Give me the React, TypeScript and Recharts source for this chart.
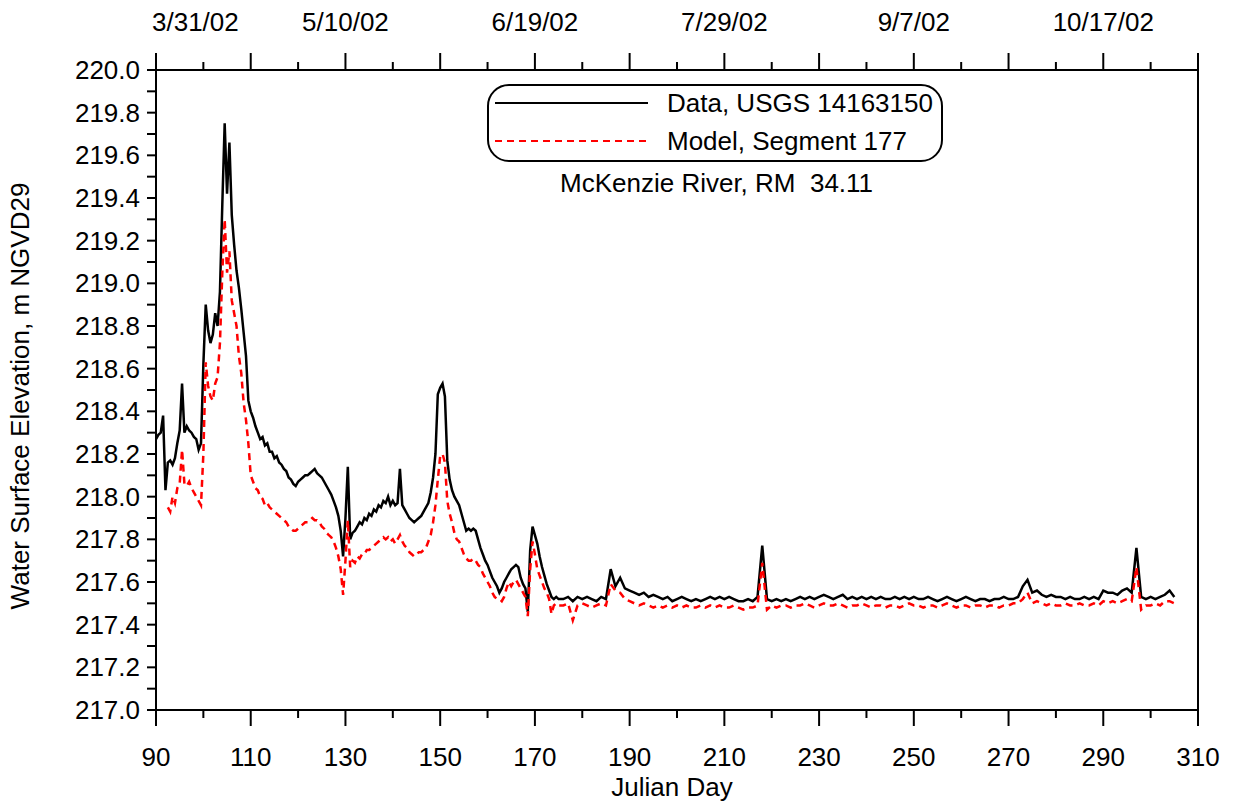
import { LineChart, Line, XAxis, YAxis, ReferenceLine } from 'recharts';

// Julian day sampling (half-day through the active period, daily afterwards)
const dayEarly = [
  90, 90.5, 91, 91.5, 92, 92.5, 93, 93.5, 94, 94.5,
  95, 95.5, 96, 96.5, 97, 97.5, 98, 98.5, 99, 99.5,
  100, 100.5, 101, 101.5, 102, 102.5, 103, 103.5, 104, 104.5,
  105, 105.5, 106, 106.5, 107, 107.5, 108, 108.5, 109, 109.5,
  110, 110.5, 111, 111.5, 112, 112.5, 113, 113.5, 114, 114.5,
  115, 115.5, 116, 116.5, 117, 117.5, 118, 118.5, 119, 119.5,
  120, 120.5, 121, 121.5, 122, 122.5, 123, 123.5, 124, 124.5,
  125, 125.5, 126, 126.5, 127, 127.5, 128, 128.5, 129, 129.5,
  130, 130.5, 131, 131.5, 132, 132.5, 133, 133.5, 134, 134.5,
  135, 135.5, 136, 136.5, 137, 137.5, 138, 138.5, 139, 139.5,
  140, 140.5, 141, 141.5, 142, 142.5, 143, 143.5, 144, 144.5,
  145, 145.5, 146, 146.5, 147, 147.5, 148, 148.5, 149, 149.5,
  150, 150.5, 151, 151.5, 152, 152.5, 153, 153.5, 154, 154.5,
  155, 155.5, 156, 156.5, 157, 157.5, 158, 158.5, 159, 159.5,
  160, 160.5, 161, 161.5, 162, 162.5, 163, 163.5, 164, 164.5,
  165, 165.5, 166, 166.5, 167, 167.5, 168, 168.5, 169, 169.5,
  170, 170.5, 171, 171.5, 172, 172.5, 173, 173.5, 174, 174.5,
  175,
];

// USGS 14163150 observed elevation, m
const dataEarly = [
  218.27, 218.29, 218.30, 218.38, 218.03, 218.16, 218.17, 218.15, 218.18, 218.25,
  218.31, 218.53, 218.30, 218.33, 218.31, 218.30, 218.28, 218.27, 218.22, 218.25,
  218.62, 218.90, 218.78, 218.72, 218.76, 218.86, 218.80, 218.96, 219.37, 219.75,
  219.42, 219.66, 219.32, 219.18, 219.06, 218.98, 218.88, 218.77, 218.66, 218.45,
  218.40, 218.37, 218.33, 218.30, 218.27, 218.28, 218.24, 218.25, 218.21, 218.21,
  218.18, 218.19, 218.16, 218.15, 218.13, 218.12, 218.09, 218.08, 218.06, 218.05,
  218.07, 218.08, 218.09, 218.10, 218.10, 218.11, 218.12, 218.13, 218.11, 218.10,
  218.09, 218.07, 218.05, 218.03, 218.01, 217.98, 217.95, 217.91, 217.84, 217.72,
  217.90, 218.14, 217.80, 217.83, 217.84, 217.86, 217.88, 217.87, 217.90, 217.89,
  217.92, 217.91, 217.94, 217.93, 217.96, 217.95, 217.98, 217.97, 218.00, 217.96,
  217.98, 217.96, 217.97, 218.13, 217.96, 217.94, 217.92, 217.90, 217.89, 217.88,
  217.89, 217.90, 217.91, 217.93, 217.95, 217.97, 218.02, 218.09, 218.20, 218.48,
  218.51, 218.53, 218.47, 218.17, 218.08, 218.03, 218.00, 217.98, 217.96, 217.92,
  217.88, 217.84, 217.85, 217.84, 217.85, 217.84, 217.80, 217.76, 217.73, 217.70,
  217.68, 217.65, 217.62, 217.60, 217.58, 217.55, 217.57, 217.60, 217.62, 217.64,
  217.66, 217.67, 217.68, 217.67, 217.62, 217.59, 217.57, 217.46, 217.75, 217.86,
  217.82, 217.78, 217.72, 217.67, 217.63, 217.59, 217.56, 217.53, 217.52, 217.53,
  217.52,
];

// Model, segment 177
const modelEarly = [
  null, null, null, null, null, 217.95, 217.93, 218.00, 217.97, 218.04,
  218.06, 218.22, 218.06, 218.05, 218.07, 218.04, 218.02, 218.00, 217.98, 217.96,
  218.20, 218.63, 218.52, 218.47, 218.45, 218.53, 218.56, 218.72, 219.05, 219.30,
  219.05, 219.15, 218.92, 218.86, 218.80, 218.66, 218.58, 218.44, 218.36, 218.25,
  218.10, 218.07, 218.04, 218.03, 218.00, 217.99, 217.96, 217.97, 217.95, 217.94,
  217.93, 217.92, 217.91, 217.90, 217.89, 217.88, 217.86, 217.85, 217.84, 217.84,
  217.85, 217.86, 217.87, 217.88, 217.88, 217.89, 217.90, 217.89, 217.89, 217.88,
  217.86, 217.85, 217.83, 217.82, 217.81, 217.79, 217.76, 217.72, 217.66, 217.54,
  217.70, 217.89, 217.67, 217.70, 217.69, 217.72, 217.71, 217.73, 217.73, 217.75,
  217.75, 217.76, 217.77, 217.78, 217.79, 217.80, 217.81, 217.80, 217.81, 217.79,
  217.80, 217.78, 217.80, 217.82, 217.79, 217.77, 217.76, 217.74, 217.73, 217.72,
  217.73, 217.74, 217.74, 217.75, 217.76, 217.79, 217.82, 217.88, 217.96, 218.08,
  218.19, 218.20, 218.16, 217.98, 217.92, 217.88, 217.83, 217.80, 217.79, 217.76,
  217.73, 217.71, 217.70, 217.70, 217.71, 217.70, 217.68, 217.67, 217.64, 217.62,
  217.60, 217.58, 217.55, 217.53, 217.52, 217.52, 217.51, 217.53, 217.57, 217.60,
  217.58, 217.60, 217.61, 217.59, 217.57, 217.55, 217.53, 217.44, 217.66, 217.79,
  217.73, 217.66, 217.63, 217.60, 217.57, 217.55, 217.52, 217.45, 217.49, 217.50,
  217.49,
];

const dayLate = [
  176, 177, 178, 179, 180, 181, 182, 183, 184, 185,
  186, 187, 188, 189, 190, 191, 192, 193, 194, 195,
  196, 197, 198, 199, 200, 201, 202, 203, 204, 205,
  206, 207, 208, 209, 210, 211, 212, 213, 214, 215,
  216, 217, 218, 219, 220, 221, 222, 223, 224, 225,
  226, 227, 228, 229, 230, 231, 232, 233, 234, 235,
  236, 237, 238, 239, 240, 241, 242, 243, 244, 245,
  246, 247, 248, 249, 250, 251, 252, 253, 254, 255,
  256, 257, 258, 259, 260, 261, 262, 263, 264, 265,
  266, 267, 268, 269, 270, 271, 272, 273, 274, 275,
  276, 277, 278, 279, 280, 281, 282, 283, 284, 285,
  286, 287, 288, 289, 290, 291, 292, 293, 294, 295,
  296, 297, 298, 299, 300, 301, 302, 303, 304, 305,
];

const dataLate = [
  217.52, 217.53, 217.51, 217.53, 217.52, 217.53, 217.52, 217.51, 217.53, 217.52,
  217.66, 217.58, 217.62, 217.57, 217.56, 217.55, 217.54, 217.55, 217.53, 217.54,
  217.53, 217.52, 217.53, 217.51, 217.52, 217.53, 217.52, 217.51, 217.52, 217.51,
  217.52, 217.53, 217.52, 217.53, 217.52, 217.53, 217.52, 217.51, 217.51, 217.52,
  217.51, 217.53, 217.77, 217.52, 217.51, 217.52, 217.51, 217.52, 217.51, 217.52,
  217.53, 217.52, 217.53, 217.52, 217.53, 217.54, 217.53, 217.52, 217.53, 217.54,
  217.52, 217.53, 217.52, 217.53, 217.52, 217.53, 217.52, 217.53, 217.52, 217.52,
  217.53, 217.52, 217.53, 217.52, 217.53, 217.52, 217.52, 217.53, 217.52, 217.51,
  217.52, 217.53, 217.52, 217.51, 217.52, 217.53, 217.52, 217.51, 217.52, 217.52,
  217.51, 217.52, 217.52, 217.53, 217.52, 217.52, 217.53, 217.58, 217.61, 217.55,
  217.56, 217.54, 217.53, 217.54, 217.53, 217.53, 217.52, 217.53, 217.52, 217.52,
  217.53, 217.52, 217.53, 217.52, 217.56, 217.55, 217.55, 217.54, 217.56, 217.57,
  217.55, 217.76, 217.53, 217.52, 217.53, 217.52, 217.53, 217.54, 217.56, 217.53,
];

const modelLate = [
  217.49, 217.50, 217.42, 217.49, 217.50, 217.49, 217.48, 217.49, 217.50, 217.49,
  217.59, 217.56, 217.55, 217.52, 217.51, 217.50, 217.49, 217.50, 217.49, 217.48,
  217.49, 217.48, 217.49, 217.48, 217.49, 217.48, 217.49, 217.48, 217.48, 217.49,
  217.48, 217.49, 217.48, 217.49, 217.48, 217.48, 217.49, 217.48, 217.47, 217.48,
  217.48, 217.49, 217.69, 217.47, 217.49, 217.48, 217.49, 217.49, 217.48, 217.49,
  217.49, 217.50, 217.49, 217.48, 217.49, 217.50, 217.49, 217.49, 217.50, 217.49,
  217.48, 217.49, 217.49, 217.50, 217.49, 217.48, 217.49, 217.49, 217.48, 217.49,
  217.49, 217.48, 217.49, 217.50, 217.49, 217.49, 217.48, 217.49, 217.49, 217.48,
  217.49, 217.50, 217.49, 217.48, 217.49, 217.49, 217.48, 217.49, 217.49, 217.48,
  217.49, 217.49, 217.48, 217.49, 217.49, 217.50, 217.50, 217.52, 217.55, 217.50,
  217.51, 217.50, 217.49, 217.50, 217.49, 217.49, 217.50, 217.49, 217.49, 217.50,
  217.49, 217.49, 217.50, 217.49, 217.51, 217.50, 217.51, 217.50, 217.51, 217.52,
  217.51, 217.67, 217.47, 217.49, 217.49, 217.50, 217.49, 217.51, 217.51, 217.50,
];

const xTicks = [90, 100, 110, 120, 130, 140, 150, 160, 170, 180, 190, 200, 210, 220, 230, 240, 250, 260, 270, 280, 290, 300, 310];
const yTicks = [
  217.0, 217.1, 217.2, 217.3, 217.4, 217.5, 217.6, 217.7, 217.8, 217.9,
  218.0, 218.1, 218.2, 218.3, 218.4, 218.5, 218.6, 218.7, 218.8, 218.9,
  219.0, 219.1, 219.2, 219.3, 219.4, 219.5, 219.6, 219.7, 219.8, 219.9, 220.0,
];
const dateLabels: Record<number, string> = {
  90: '3/31/02',
  130: '5/10/02',
  170: '6/19/02',
  210: '7/29/02',
  250: '9/7/02',
  290: '10/17/02',
};

const FONT = '"Liberation Sans", Arial, sans-serif';
const FS = 26;

const rows = [
  ...dayEarly.map((d, i) => ({ day: d, data: dataEarly[i], model: modelEarly[i] })),
  ...dayLate.map((d, i) => ({ day: d, data: dataLate[i], model: modelLate[i] })),
];

function BottomTick({ x, y, payload }: any) {
  const v = payload.value;
  const major = (v - 90) % 20 === 0;
  return (
    <g>
      <line x1={x} x2={x} y1={y} y2={y + (major ? 16 : 8)} stroke="#000" strokeWidth={2} />
      {major && (
        <text x={x} y={y + 56} textAnchor="middle" fontSize={FS} fontFamily={FONT} fill="#000">
          {v}
        </text>
      )}
    </g>
  );
}

function TopTick({ x, y, payload }: any) {
  const v = payload.value;
  const major = (v - 90) % 20 === 0;
  const label = dateLabels[v];
  return (
    <g>
      <line x1={x} x2={x} y1={y} y2={y - (major ? 17 : 8)} stroke="#000" strokeWidth={2} />
      {label && (
        <text
          x={v === 90 ? x - 4 : x}
          y={y - 39}
          textAnchor={v === 90 ? 'start' : 'middle'}
          fontSize={FS}
          fontFamily={FONT}
          fill="#000"
        >
          {label}
        </text>
      )}
    </g>
  );
}

function LeftTick({ x, y, payload }: any) {
  const v = payload.value;
  const labelled = Math.round(v * 10) % 2 === 0;
  return (
    <g>
      <line x1={x - 9} x2={x} y1={y} y2={y} stroke="#000" strokeWidth={2} />
      {labelled && (
        <text x={x - 16} y={y + 9} textAnchor="end" fontSize={FS} fontFamily={FONT} fill="#000">
          {v.toFixed(1)}
        </text>
      )}
    </g>
  );
}

const textStyle = { position: 'absolute' as const, fontFamily: FONT, fontSize: FS, color: '#000', whiteSpace: 'pre' as const, lineHeight: 1 };

export default function App() {
  return (
    <div style={{ position: 'absolute', left: 0, top: 0, width: 1233, height: 804, background: '#fff' }}>
      <LineChart width={1233} height={804} data={rows} margin={{ top: 0, right: 35, bottom: 0, left: 0 }}>
        <XAxis
          xAxisId="bottom"
          dataKey="day"
          type="number"
          domain={[90, 310]}
          ticks={xTicks}
          interval={0}
          orientation="bottom"
          height={94}
          tickSize={0}
          tickMargin={0}
          tickLine={false}
          axisLine={{ stroke: '#000', strokeWidth: 2 }}
          tick={<BottomTick />}
        />
        <XAxis
          xAxisId="top"
          dataKey="day"
          type="number"
          domain={[90, 310]}
          ticks={xTicks}
          interval={0}
          orientation="top"
          height={70}
          tickSize={0}
          tickMargin={0}
          tickLine={false}
          axisLine={{ stroke: '#000', strokeWidth: 2 }}
          tick={<TopTick />}
        />
        <YAxis
          type="number"
          domain={[217, 220]}
          ticks={yTicks}
          interval={0}
          width={156}
          tickSize={0}
          tickMargin={0}
          tickLine={false}
          axisLine={{ stroke: '#000', strokeWidth: 2 }}
          tick={<LeftTick />}
        />
        <ReferenceLine xAxisId="bottom" x={310} stroke="#000" strokeWidth={2} />
        <Line
          xAxisId="bottom"
          dataKey="data"
          type="linear"
          stroke="#000"
          strokeWidth={2.5}
          dot={false}
          connectNulls
          isAnimationActive={false}
        />
        <Line
          xAxisId="bottom"
          dataKey="model"
          type="linear"
          stroke="#ff0000"
          strokeWidth={2.5}
          strokeDasharray="7 5"
          dot={false}
          isAnimationActive={false}
        />
      </LineChart>

      {/* legend */}
      <div
        style={{
          position: 'absolute',
          left: 487,
          top: 84,
          width: 456,
          height: 78,
          boxSizing: 'border-box',
          border: '2px solid #000',
          borderRadius: 22,
        }}
      />
      <svg style={{ position: 'absolute', left: 0, top: 0 }} width={1233} height={804} pointerEvents="none">
        <line x1={495} x2={648} y1={103} y2={103} stroke="#000" strokeWidth={2} />
        <line x1={495} x2={648} y1={141} y2={141} stroke="#ff0000" strokeWidth={2} strokeDasharray="7 5" />
      </svg>
      <div style={{ ...textStyle, left: 667, top: 90 }}>Data, USGS 14163150</div>
      <div style={{ ...textStyle, left: 667, top: 128 }}>Model, Segment 177</div>
      <div style={{ ...textStyle, left: 560, top: 170 }}>McKenzie River, RM  34.11</div>

      {/* axis titles */}
      <div style={{ ...textStyle, left: 672, top: 774, transform: 'translateX(-50%)' }}>Julian Day</div>
      <div
        style={{
          ...textStyle,
          left: 20,
          top: 396,
          transform: 'translate(-50%, -50%) rotate(-90deg)',
        }}
      >
        Water Surface Elevation, m NGVD29
      </div>
    </div>
  );
}
